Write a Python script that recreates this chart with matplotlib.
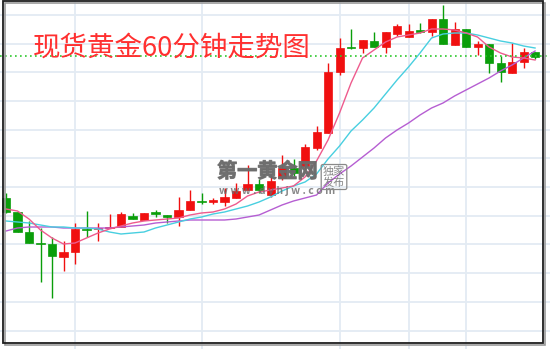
import matplotlib
matplotlib.use("Agg")
import matplotlib.pyplot as plt
import matplotlib.patheffects as pe
import numpy as np
from matplotlib.patches import Rectangle

plt.rcParams['font.family'] = ['Noto Sans CJK SC', 'DejaVu Sans']

# candles, in screen rows (smaller = higher price)
opens  = [198, 212, 232, 243, 244, 257, 252, 229, 229, 228, 227, 216, 220, 212, 215, 217,
          210, 201, 202, 202, 198, 190, 184, 195, 178, 168, 166, 148, 133, 72, 47, 48,
          41, 47, 34, 37, 30, 32, 19, 45, 29, 47, 44, 63, 73, 62, 52]
closes = [212, 232, 243, 244, 256, 252, 229, 230, 228, 227, 214, 219, 213, 214, 217, 210,
          201, 202, 200, 197, 191, 184, 190, 181, 168, 173, 147, 132, 72, 48, 48, 40,
          47, 32, 26, 31, 32, 19, 44, 29, 47, 44, 63, 72, 62, 52, 57]
highs  = [193, 212, 221, 228, 237, 241, 223, 211, 223, 214, 212, 213, 213, 210, 215, 197,
          190, 193, 198, 188, 183, 165, 179, 175, 155, 159, 144, 126, 63, 38, 29, 40,
          32, 32, 24, 24, 23, 19, 5, 22, 29, 41, 44, 56, 43, 48, 52]
lows   = [213, 232, 243, 282, 298, 271, 264, 237, 241, 228, 227, 219, 220, 217, 223, 226,
          210, 204, 204, 206, 198, 190, 193, 197, 180, 176, 170, 150, 133, 75, 49, 53,
          47, 53, 36, 37, 33, 36, 44, 45, 47, 55, 73, 82, 73, 68, 59]

# moving averages (same units)
ma5  = [209, 211, 219, 230, 238, 244, 243, 238, 233, 229, 226, 223, 221, 220, 219, 218,
        215, 213, 212, 209, 204, 196, 192, 190, 188, 186, 177, 161, 140, 113, 83, 58,
        50, 42, 37, 35, 33, 29, 29, 30, 33, 37, 47, 53, 57, 58, 60]
ma10 = [221, 222, 223, 225, 227, 227, 228, 228, 229, 232, 234, 233, 232, 228, 225, 222,
        219, 217, 214, 212, 209, 206, 202, 197, 191, 186, 182, 174, 159, 146, 131, 120,
        108, 94, 80, 67, 53, 38, 34, 33, 33, 35, 38, 41, 43, 46, 48]
ma20 = [231, 228, 227, 227, 227, 228, 228, 228, 228, 228, 227, 226, 225, 223, 222, 221,
        220, 220, 220, 220, 219, 217, 215, 210, 205, 201, 198, 195, 183, 174, 166, 157,
        148, 138, 130, 123, 115, 108, 103, 96, 90, 84, 78, 71, 65, 58, 51]

ref_level = 56
grid_rows = [15, 44, 72, 101, 130, 158, 187, 216, 244, 273, 302, 331]
grid_cols = [6, 17, 29, 35, 40]

title = "现货黄金60分钟走势图"

RED = '#f01010'
GREEN = '#0a9e0a'

fig = plt.figure(figsize=(5.5, 3.49), dpi=100)
ax = fig.add_axes([0, 0, 1, 1])
ax.set_xlim(-0.522, 47.30)
ax.set_ylim(349, 0)
ax.axis('off')

for r in grid_rows:
    ax.axhline(r, color='#e3ebf3', lw=1.3, zorder=0)
for c in grid_cols:
    ax.axvline(c, color='#e3ebf3', lw=1.3, zorder=0)

x = np.arange(len(opens))
o = np.array(opens)
c = np.array(closes)
up = c < o
cols = np.where(up, RED, GREEN)
ax.vlines(x, highs, lows, colors=cols, lw=1, zorder=2)
body_top = np.minimum(o, c)
body_h = np.maximum(np.abs(o - c), 1.2)
ax.bar(x, body_h, bottom=body_top, width=0.7, color=cols, edgecolor=cols,
       lw=0.5, zorder=3)

ax.plot(x, ma20, color='#b65ed2', lw=1, zorder=4)
ax.plot(x, ma10, color='#48cfe0', lw=1, zorder=4)
ax.plot(x, ma5, color='#ee5b8d', lw=1, zorder=4)

ax.axhline(ref_level, color='#2ec82e', lw=1.2, ls=(0, (1, 2)), zorder=5)

# watermark
wm = '#6a6a6a'
fig.text(217 / 550, 1 - 171 / 349, "第一黄金网", fontsize=14.5, fontweight='bold',
         color=wm, alpha=0.8, va='center', ha='left', zorder=6,
         path_effects=[pe.withStroke(linewidth=0.8, foreground=wm, alpha=0.8)])
fig.text(219 / 550, 1 - 191 / 349, "w w w . d y h j w . c o m", fontsize=7.5,
         fontweight='bold', color=wm, alpha=0.8, va='center', ha='left', zorder=6)
fig.text(334 / 550, 1 - 177 / 349, "独家\n发布", fontsize=8, color=wm,
         alpha=0.8, va='center', ha='center', linespacing=1.05, zorder=6,
         bbox=dict(boxstyle='round,pad=0.15', fc='none', ec='#8a8a8a', lw=0.9))

fig.text(33 / 550, 1 - 48 / 349, title, fontsize=19.8, color='#ff3030',
         va='center', ha='left', zorder=7)

# frame with shadow
fig.add_artist(Rectangle((5 / 550, 1 - 345 / 349), 540 / 550, 342 / 349,
                         transform=fig.transFigure, fill=False, ec='#9a9a9a', lw=1.2))
fig.add_artist(Rectangle((3 / 550, 1 - 343 / 349), 540 / 550, 342 / 349,
                         transform=fig.transFigure, fill=False, ec='#1e1e1e', lw=1.3))

fig.savefig('out.png', dpi=100, facecolor='white')
